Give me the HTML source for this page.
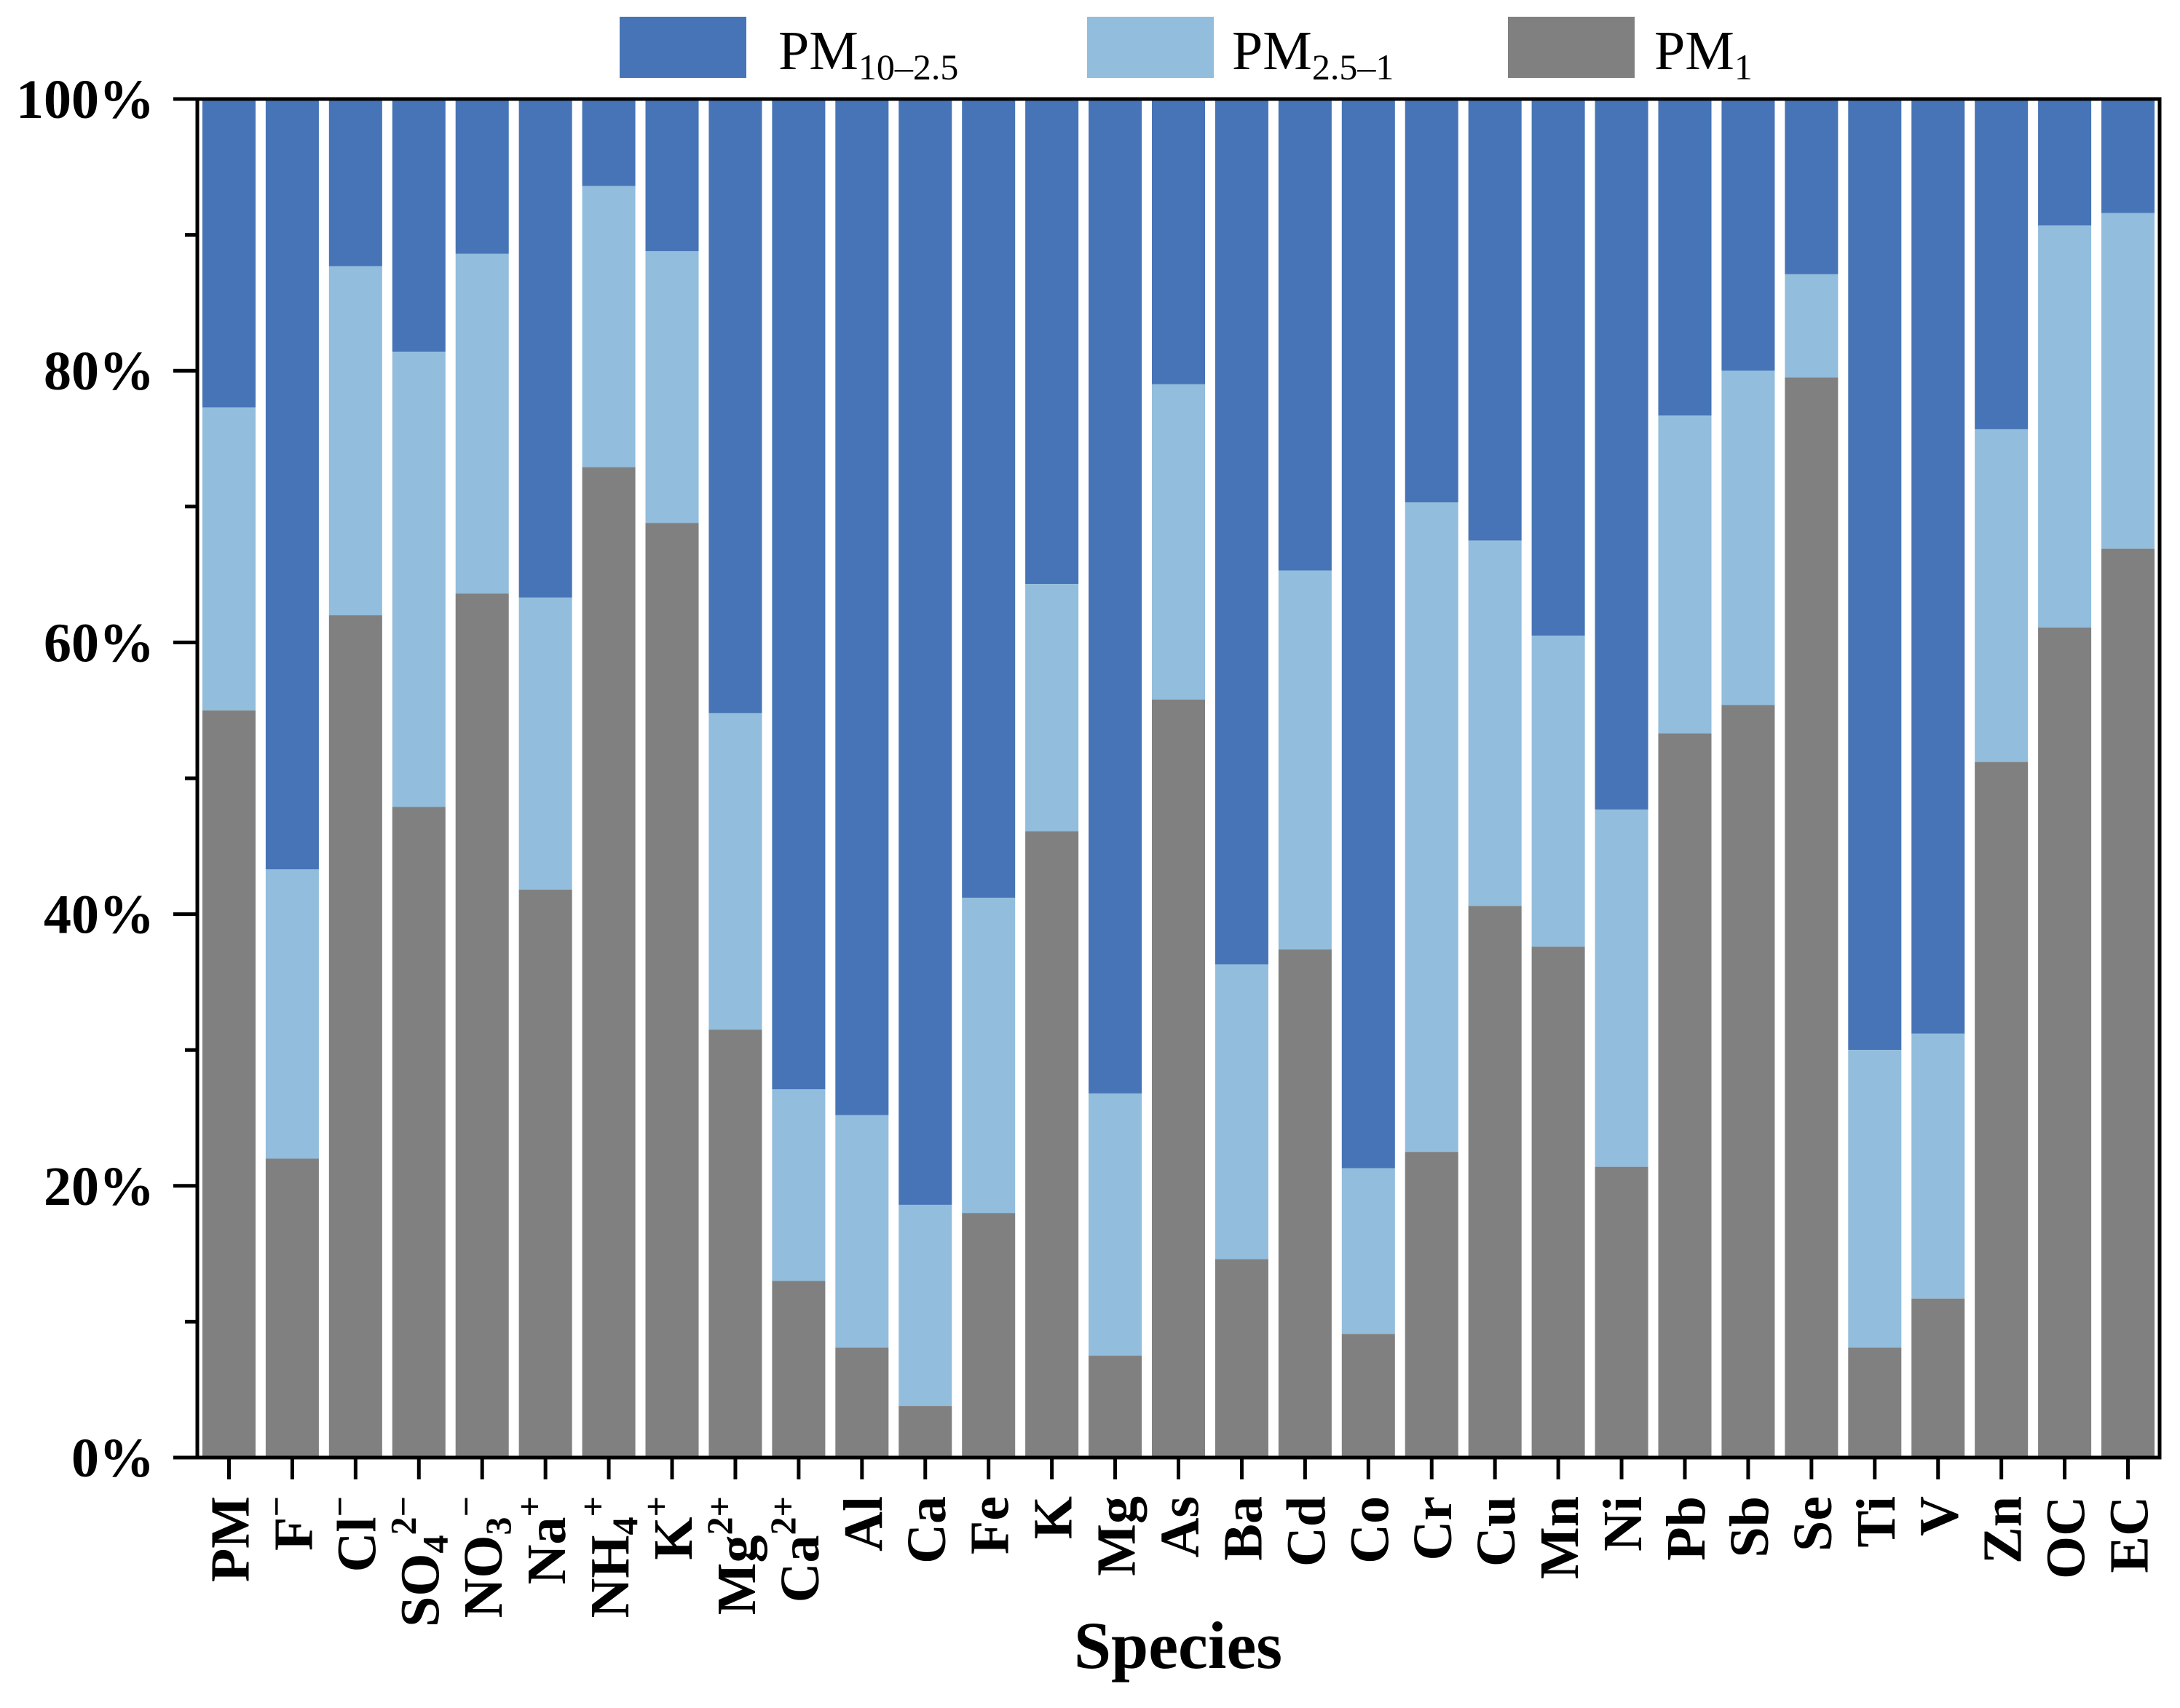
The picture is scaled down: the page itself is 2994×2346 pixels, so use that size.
<!DOCTYPE html>
<html><head><meta charset="utf-8"><style>
html,body{margin:0;padding:0;background:#fff;}
svg{display:block;font-family:"Liberation Serif",serif;}
</style></head><body>
<svg id="chart" width="2994" height="2346" viewBox="0 0 2994 2346" xmlns="http://www.w3.org/2000/svg">
<g id="legend">
 <g>
  <rect x="851" y="23" width="174" height="84" fill="#4674B6"/>
  <text x="1069" y="95" font-size="76">PM<tspan font-size="50" dy="14">10–2.5</tspan></text>
 </g>
 <g>
  <rect x="1493" y="23" width="174" height="84" fill="#92BDDC"/>
  <text x="1692" y="95" font-size="76">PM<tspan font-size="50" dy="14">2.5–1</tspan></text>
 </g>
 <g>
  <rect x="2071" y="23" width="174" height="84" fill="#808080"/>
  <text x="2272" y="95" font-size="76">PM<tspan font-size="50" dy="14">1</tspan></text>
 </g>
</g>
<g id="bars"></g>
<g id="axes"></g>
<text x="1618" y="2291" font-size="92" font-weight="bold" text-anchor="middle">Species</text>
</svg>
<script>
const categories = ["PM","F","Cl","SO4","NO3","Na","NH4","K+","Mg2+","Ca2+","Al","Ca","Fe","K","Mg","As","Ba","Cd","Co","Cr","Cu","Mn","Ni","Pb","Sb","Se","Ti","V","Zn","OC","EC"];
const labelMain = ["PM","F","Cl","SO","NO","Na","NH","K","Mg","Ca","Al","Ca","Fe","K","Mg","As","Ba","Cd","Co","Cr","Cu","Mn","Ni","Pb","Sb","Se","Ti","V","Zn","OC","EC"];
const labelSub = ["","","","4","3","","4","","","","","","","","","","","","","","","","","","","","","","","",""];
const labelSup = ["","−","−","2−","−","+","+","+","2+","2+","","","","","","","","","","","","","","","","","","","","",""];
const pm1 = [55.0,22.0,62.0,47.9,63.6,41.8,72.9,68.8,31.5,13.0,8.1,3.8,18.0,46.1,7.5,55.8,14.6,37.4,9.1,22.5,40.6,37.6,21.4,53.3,55.4,79.5,8.1,11.7,51.2,61.1,66.9];
const pm25_1 = [22.3,21.3,25.7,33.5,25.0,21.5,20.7,20.0,23.3,14.1,17.1,14.8,23.2,18.2,19.3,23.2,21.7,27.9,12.2,47.8,26.9,22.9,26.3,23.4,24.6,7.6,21.9,19.5,24.5,29.6,24.7];
const yTicks = [0,20,40,60,80,100];
const yTickLabels = ["0%","20%","40%","60%","80%","100%"];

const NS="http://www.w3.org/2000/svg";
const L=271,R=2966,T=136,B=2002;
const n=categories.length, pitch=(R-L)/n, bw=pitch*0.84;
const y=v=>B-(B-T)*v/100;
const xc=i=>L+pitch*(i+0.5);
function mk(tag,attrs,parent){const e=document.createElementNS(NS,tag);for(const k in attrs)e.setAttribute(k,attrs[k]);parent.appendChild(e);return e;}
const bars=document.getElementById('bars'), axes=document.getElementById('axes');
categories.forEach((c,i)=>{
  const x=xc(i)-bw/2;
  const a=pm1[i], b=a+pm25_1[i];
  let r=mk('rect',{x:x,y:y(100),width:bw,height:y(b)-y(100),fill:'#4674B6'},bars);
  
  
  r=mk('rect',{x:x,y:y(b),width:bw,height:y(a)-y(b),fill:'#92BDDC'},bars);
  
  
  r=mk('rect',{x:x,y:y(a),width:bw,height:y(0)-y(a),fill:'#808080'},bars);
  
  
  // x tick
  const t=mk('line',{x1:xc(i),x2:xc(i),y1:B,y2:B+30,stroke:'#000','stroke-width':5},axes);
  
  
  // label
  const lx=xc(i)+27, ly=2055;
  const tx=mk('text',{x:lx,y:ly,'font-size':76,'font-weight':'bold','text-anchor':'end',transform:`rotate(-90 ${lx} ${ly})`},axes);
  
  
  tx.textContent=labelMain[i];
  if(labelSub[i]){const s=mk('tspan',{'font-size':50,dy:12},tx);s.textContent=labelSub[i];}
  if(labelSup[i]){const s=mk('tspan',{'font-size':50,dy:labelSub[i]?-44:-32},tx);s.textContent=labelSup[i];}
});
// y ticks
for(let v=0;v<=100;v+=10){
  const major=v%20===0;
  const t=mk('line',{x1:L-(major?33:17),x2:L,y1:y(v),y2:y(v),stroke:'#000','stroke-width':5},axes);
  
  
}
yTicks.forEach((v,i)=>{
  const tx=mk('text',{x:212,y:y(v)+26,'font-size':76,'font-weight':'bold','text-anchor':'end'},axes);
  
  
  tx.textContent=yTickLabels[i];
});
const fr=mk('rect',{x:L,y:T,width:R-L,height:B-T,fill:'none',stroke:'#000','stroke-width':5},axes);


</script>
</body></html>
